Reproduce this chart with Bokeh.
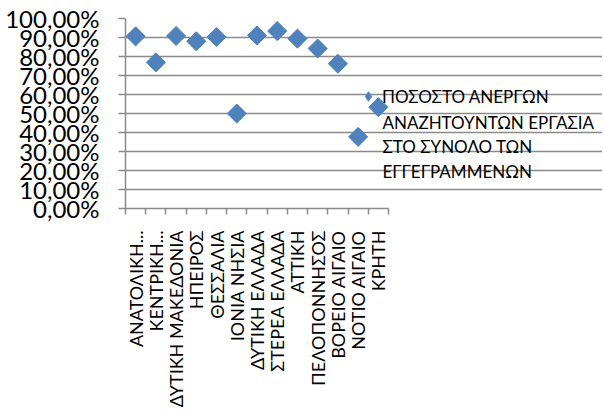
import numpy as np
from math import pi
from bokeh.plotting import figure
from bokeh.models import (Range1d, FixedTicker, Legend, LegendItem, Label,
                          ColumnDataSource, CDSView, IndexFilter)
from bokeh.embed import file_html
from bokeh.resources import INLINE

regions = ["ΑΝΑΤΟΛΙΚΗ...", "ΚΕΝΤΡΙΚΗ...", "ΔΥΤΙΚΗ ΜΑΚΕΔΟΝΙΑ", "ΗΠΕΙΡΟΣ", "ΘΕΣΣΑΛΙΑ",
           "ΙΟΝΙΑ ΝΗΣΙΑ", "ΔΥΤΙΚΗ ΕΛΛΑΔΑ", "ΣΤΕΡΕΑ ΕΛΛΑΔΑ", "ΑΤΤΙΚΗ", "ΠΕΛΟΠΟΝΝΗΣΟΣ",
           "ΒΟΡΕΙΟ ΑΙΓΑΙΟ", "ΝΟΤΙΟ ΑΙΓΑΙΟ", "ΚΡΗΤΗ"]
share = [90.6, 76.9, 90.8, 88.0, 90.3, 50.0, 91.1, 93.4, 89.4, 84.2, 76.2, 37.7, 53.3]
y_ticks = [0, 10, 20, 30, 40, 50, 60, 70, 80, 90, 100]
y_tick_labels = ["0,00%", "10,00%", "20,00%", "30,00%", "40,00%", "50,00%",
                 "60,00%", "70,00%", "80,00%", "90,00%", "100,00%"]
legend_lines = ["ΠΟΣΟΣΤΟ ΑΝΕΡΓΩΝ", "ΑΝΑΖΗΤΟΥΝΤΩΝ ΕΡΓΑΣΙΑ", "ΣΤΟ ΣΥΝΟΛΟ ΤΩΝ", "ΕΓΓΕΓΡΑΜΜΕΝΩΝ"]

FONT = "Lato"
GRID = "#8a8a8a"
BLUE = "#4F81BD"

n = len(regions)
centers = [i + 0.5 for i in range(n)]
bounds = list(range(n + 1))

# frame spans to the right edge so the legend text is not clipped;
# grid and x axis are bounded to the category area
X_END = 23.58

p = figure(width=602, height=410, x_range=Range1d(0, X_END), y_range=Range1d(0, 100),
           output_backend="svg", toolbar_location=None,
           min_border_left=125, min_border_right=0, min_border_top=18, min_border_bottom=200)
p.outline_line_color = None
p.background_fill_color = "white"

xa = p.xaxis[0]
xa.bounds = (0, n)
xa.ticker = FixedTicker(ticks=centers, minor_ticks=bounds)
xa.major_label_overrides = {c: r for c, r in zip(centers, regions)}
xa.major_tick_out = 0
xa.major_tick_in = 0
xa.minor_tick_out = 6
xa.minor_tick_in = 0
xa.minor_tick_line_color = GRID
xa.minor_tick_line_width = 1.5
xa.axis_line_color = GRID
xa.axis_line_width = 1.5
xa.major_label_orientation = pi / 2
xa.major_label_text_font = FONT
xa.major_label_text_font_size = "18px"
xa.major_label_text_color = "black"
xa.major_label_standoff = 16

ya = p.yaxis[0]
ya.ticker = FixedTicker(ticks=y_ticks)
ya.major_label_overrides = {t: s for t, s in zip(y_ticks, y_tick_labels)}
ya.major_tick_out = 7
ya.major_tick_in = 0
ya.minor_tick_out = 0
ya.minor_tick_in = 0
ya.major_tick_line_color = GRID
ya.major_tick_line_width = 1.5
ya.axis_line_color = GRID
ya.axis_line_width = 1.5
ya.major_label_text_font = FONT
ya.major_label_text_font_size = "24px"
ya.major_label_text_color = "black"
ya.major_label_standoff = 19

p.xgrid.visible = False
p.ygrid.ticker = FixedTicker(ticks=y_ticks)
p.ygrid.bounds = (0, n)
p.ygrid.grid_line_color = GRID
p.ygrid.grid_line_width = 1.5

src = ColumnDataSource(data=dict(x=centers, y=share))
# legend key: a small diamond of the same series, hidden beneath the last marker
key = p.scatter("x", "y", source=src, view=CDSView(filter=IndexFilter([n - 1])),
                marker="diamond", size=6, fill_color=BLUE, line_color=BLUE)
r = p.scatter("x", "y", source=src, marker="square", angle=pi / 4, size=13.5,
              fill_color=BLUE, line_color=BLUE)

legend = Legend(items=[LegendItem(label=legend_lines[0], renderers=[key])],
                location=(231, 100), padding=0, margin=0, spacing=0,
                glyph_width=24, glyph_height=24, label_standoff=2, label_height=20,
                border_line_color=None, background_fill_alpha=0,
                label_text_font=FONT, label_text_font_size="17px", label_text_color="black")
p.add_layout(legend)

line_y = [45.3, 32.8, 19.3]
for txt, yy in zip(legend_lines[1:], line_y):
    p.add_layout(Label(x=12.70, y=yy, text=txt, text_baseline="middle", text_align="left",
                       text_font=FONT, text_font_size="17px", text_color="black"))

open("out.html", "w").write(file_html(p, INLINE))
